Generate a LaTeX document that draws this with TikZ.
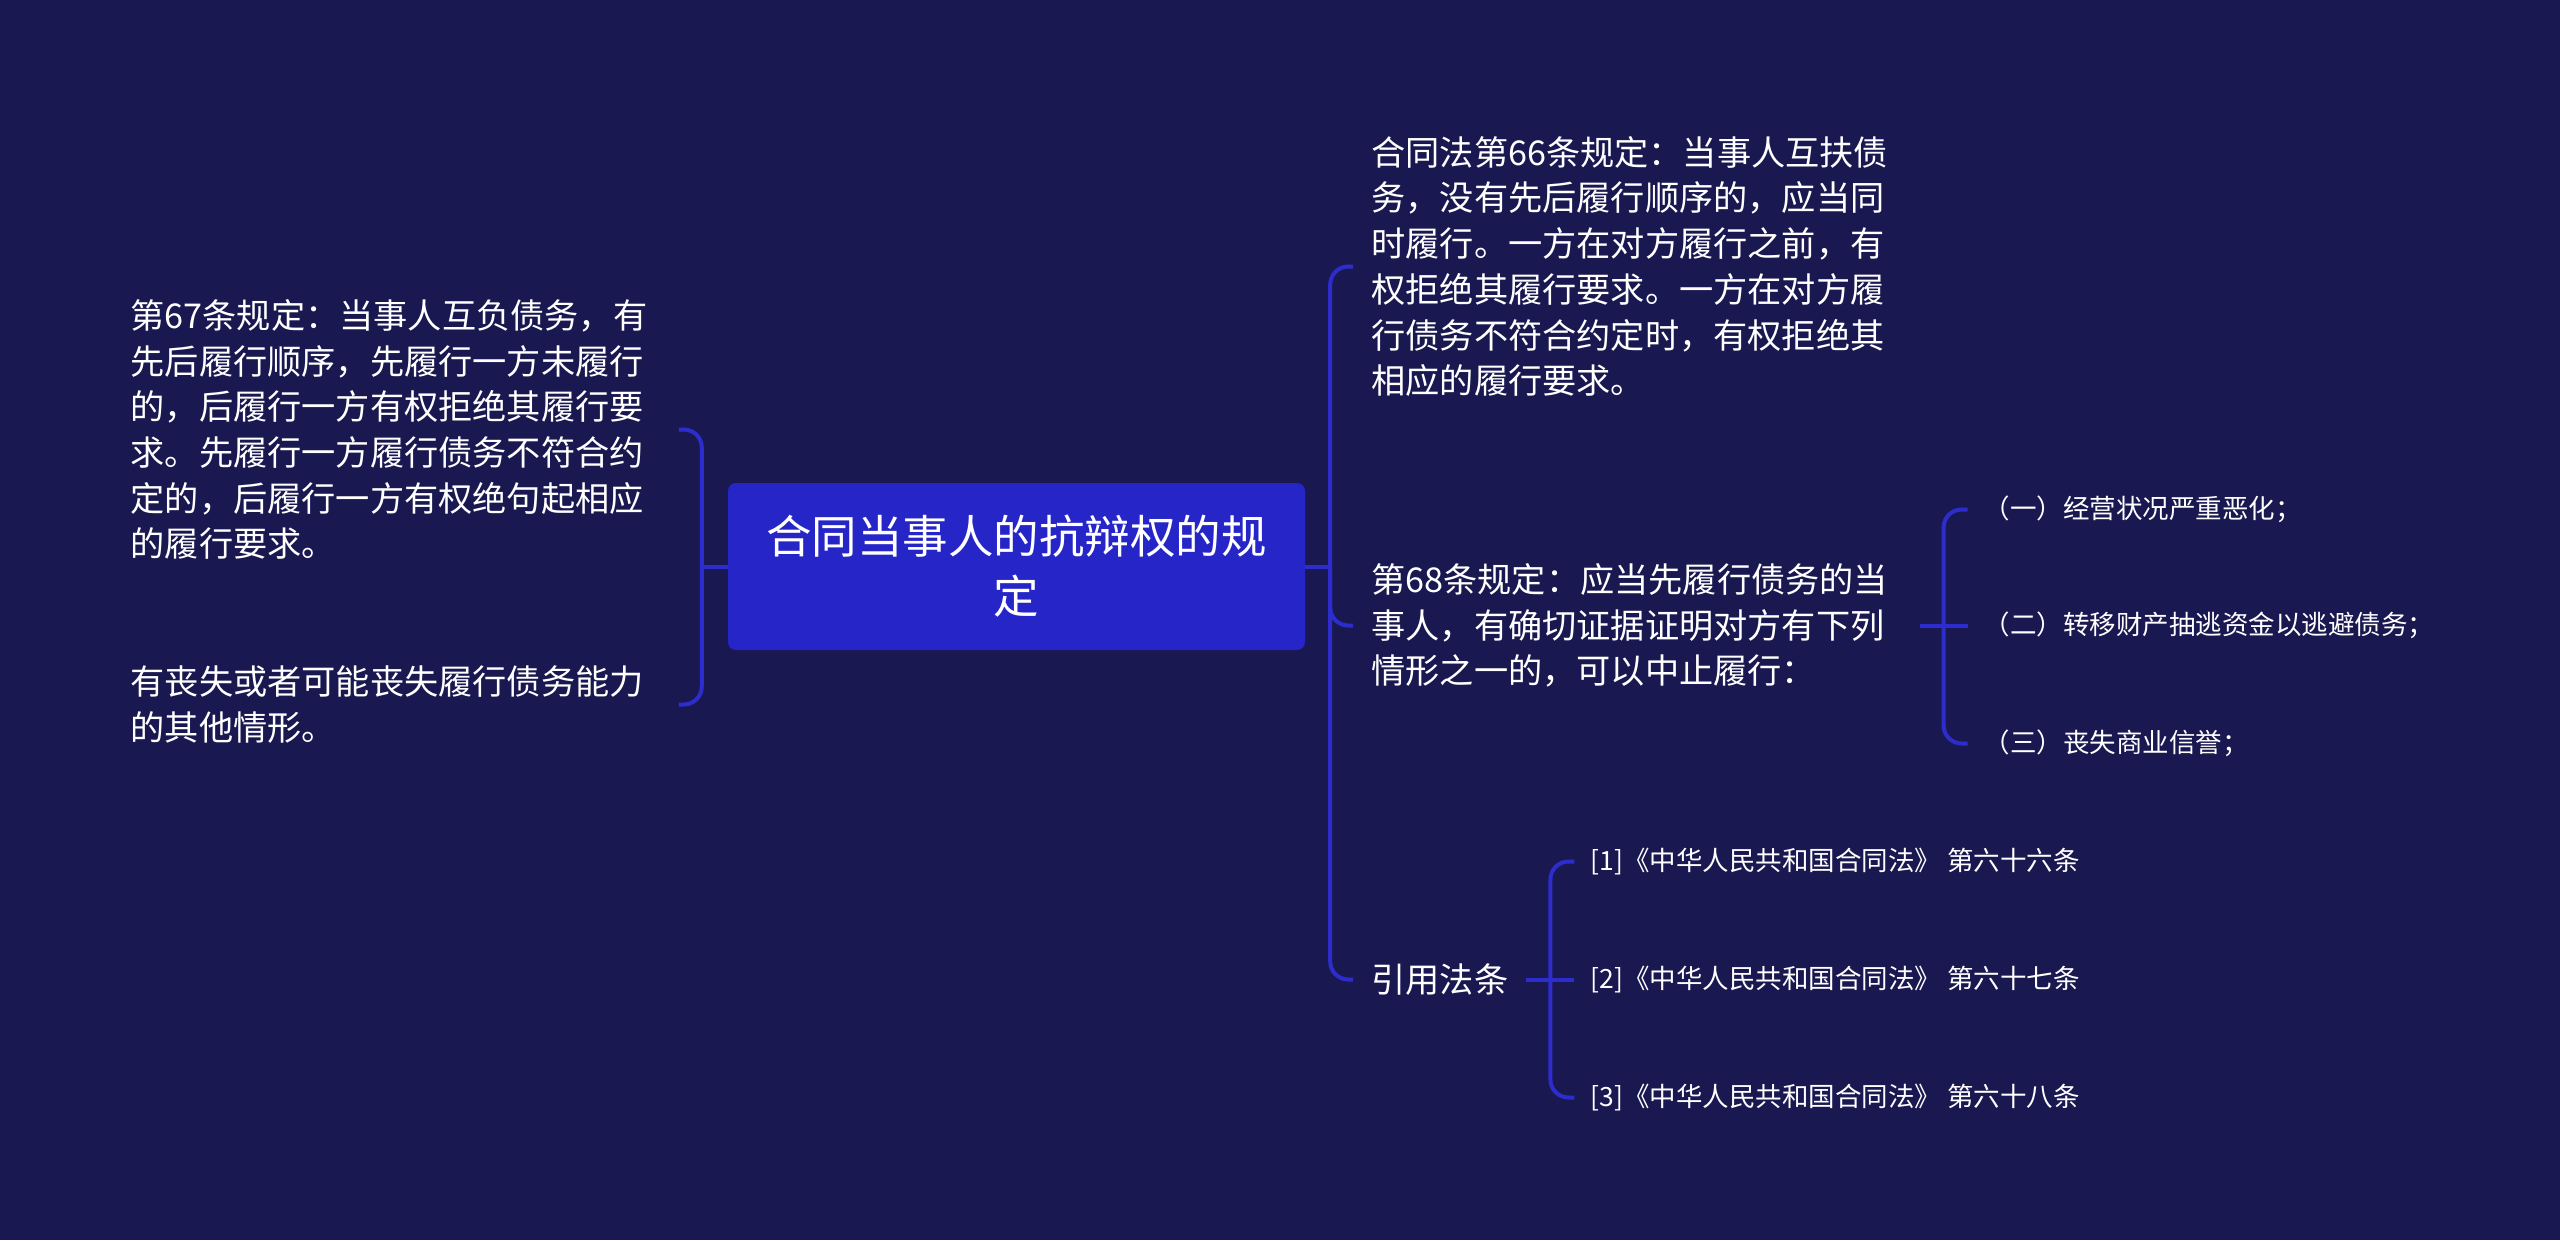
\documentclass[tikz,border=0pt]{standalone}
\usepackage{fontspec}
\setmainfont{Noto Sans CJK SC}
\usetikzlibrary{positioning}
\definecolor{bgnavy}{RGB}{26,24,80}
\definecolor{rootblue}{RGB}{38,38,200}
\definecolor{linkblue}{RGB}{45,45,205}

\begin{document}
\begin{tikzpicture}[x=1pt, y=-1pt,
            root/.style={rectangle, rounded corners=8pt, fill=rootblue, text=white, align=center,
                         minimum width=577pt, minimum height=167pt, font=\fontsize{45.5}{60}\selectfont},
            txt/.style ={text=white, inner xsep=18pt, inner ysep=0pt, font=\fontsize{34.2}{45.7}\selectfont},
            para/.style={txt, align=left, text width=530pt},
            leaf/.style={text=white, inner xsep=16pt, inner ysep=0pt, font=\fontsize{26.5}{30}\selectfont},
            link/.style={line width=4pt, linkblue, rounded corners=18pt}
        ]
            \fill[bgnavy] (0,0) rectangle (2560,1240);

            \node[root] (main) at (1016.5,566.5) {合同当事人的抗辩权的规\\定};
            \coordinate (lfork) at ([xshift=-26pt]main.west);
            \coordinate (rfork) at ([xshift=25pt]main.east);

            \node[para, left=23pt of lfork, yshift=137pt]  (law67) {第67条规定：当事人互负债务，有\\先后履行顺序，先履行一方未履行\\的，后履行一方有权拒绝其履行要\\求。先履行一方履行债务不符合约\\定的，后履行一方有权绝句起相应\\的履行要求。};
            \node[para, left=23pt of lfork, yshift=-138pt] (lost)  {有丧失或者可能丧失履行债务能力\\的其他情形。};

            \node[para, right=23pt of rfork, yshift=300pt]  (law66) {合同法第66条规定：当事人互扶债\\务，没有先后履行顺序的，应当同\\时履行。一方在对方履行之前，有\\权拒绝其履行要求。一方在对方履\\行债务不符合约定时，有权拒绝其\\相应的履行要求。};
            \node[para, right=23pt of rfork, yshift=-59pt]  (law68) {第68条规定：应当先履行债务的当\\事人，有确切证据证明对方有下列\\情形之一的，可以中止履行：};
            \node[txt,  right=23pt of rfork, yshift=-413pt] (cite)  {引用法条};

            \coordinate (mfork) at ([xshift=24pt]law68.east);
            \node[leaf, right=0pt of mfork, xshift=24pt, yshift=116pt]  (case1) {（一）经营状况严重恶化；};
            \node[leaf, right=0pt of mfork, xshift=24pt]                (case2) {（二）转移财产抽逃资金以逃避债务；};
            \node[leaf, right=0pt of mfork, xshift=24pt, yshift=-118pt] (case3) {（三）丧失商业信誉；};

            \coordinate (cfork) at ([xshift=24pt]cite.east);
            \node[leaf, right=0pt of cfork, xshift=24pt, yshift=118pt]  (ref1) {[1]《中华人民共和国合同法》 第六十六条};
            \node[leaf, right=0pt of cfork, xshift=24pt]                (ref2) {[2]《中华人民共和国合同法》 第六十七条};
            \node[leaf, right=0pt of cfork, xshift=24pt, yshift=-118pt] (ref3) {[3]《中华人民共和国合同法》 第六十八条};

            \draw[link] (main.west) -- (lfork);
            \draw[link] (law67.east) -| (lfork) |- (lost.east);
            \draw[link] (main.east) -- (rfork);
            \draw[link] (law66.west) -| (rfork) |- (cite.west);
            \draw[link] (rfork) |- (law68.west);
            \draw[link] (law68.east) -- (case2.west);
            \draw[link] (case1.west) -| (mfork) |- (case3.west);
            \draw[link] (cite.east) -- (ref2.west);
            \draw[link] (ref1.west) -| (cfork) |- (ref3.west);
        \end{tikzpicture}
\end{document}
